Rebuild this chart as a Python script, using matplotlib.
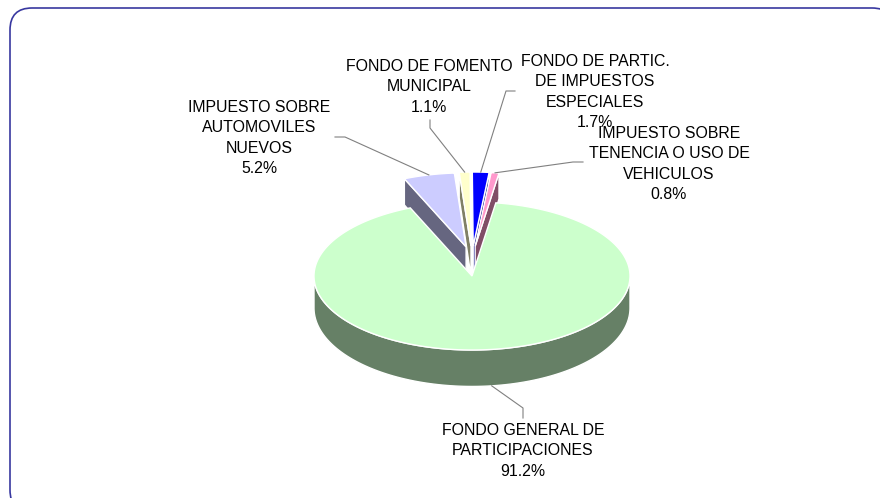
import numpy as np
import matplotlib
matplotlib.use("Agg")
import matplotlib.pyplot as plt
from matplotlib.patches import Polygon, FancyBboxPatch

# ---------------- data ----------------
categories = [
    "IMPUESTO SOBRE\nAUTOMOVILES\nNUEVOS",
    "FONDO DE FOMENTO\nMUNICIPAL",
    "FONDO DE PARTIC.\nDE IMPUESTOS\nESPECIALES",
    "IMPUESTO SOBRE\nTENENCIA O USO DE\nVEHICULOS",
    "FONDO GENERAL DE\nPARTICIPACIONES",
]
values = [5.2, 1.1, 1.7, 0.8, 91.2]
colors = ["#CCCCFF", "#FFFFCC", "#0000FF", "#FF99CC", "#CCFFCC"]
exploded = [True, True, True, True, False]

# label layout: text centre x, first line centre y, leader elbow points
label_x = [259, 429, 595, 669, 523]
label_y = [106, 65, 60, 132, 429]
leader_elbows = [
    [(335, 137), (345, 137)],
    [(430, 120), (430, 128)],
    [(515, 91), (506, 91)],
    [(583, 162), (573, 162)],
    [(523, 418), (523, 408)],
]

# ---------------- geometry ----------------
W, H = 880, 498
fig = plt.figure(figsize=(W / 100, H / 100), dpi=100)
ax = fig.add_axes([0, 0, 1, 1])
ax.set_xlim(0, W)
ax.set_ylim(H, 0)
ax.axis("off")

# frame
frame = FancyBboxPatch((10, 8), 884, 504, boxstyle="round,pad=0,rounding_size=22",
                       facecolor="white", edgecolor="#3838a0", linewidth=1.2, zorder=0)
ax.add_patch(frame)

cx, cy = 472.0, 276.0
R, r = 158.0, 74.0
start = -23.0
lift = 30.0


def depth(y):
    return 26 + 0.06 * (y - 176)


def shade(c):
    return np.array(matplotlib.colors.to_rgb(c)) * 0.5


total = sum(values)
angles = np.cumsum([0] + [v / total * 360 for v in values]) + start

slices = []
for i, v in enumerate(values):
    a0, a1 = angles[i], angles[i + 1]
    am = 0.5 * (a0 + a1)
    if exploded[i]:
        dx = 25 * np.sin(np.radians(am))
        dy = -lift * np.cos(np.radians(am))
    else:
        dx, dy = 0.0, 0.0
    slices.append((i, a0, a1, am, dx, dy))


def P(theta, dx, dy, rad=1.0):
    t = np.radians(theta)
    return cx + dx + R * rad * np.sin(t), cy + dy - r * rad * np.cos(t)


def draw_slice(i, a0, a1, am, dx, dy, z):
    col = colors[i]
    side = shade(col)
    ec = "white"
    apex = (cx + dx, cy + dy)
    # radial faces
    for phi, is_start in ((a0, True), (a1, False)):
        s = np.sin(np.radians(phi))
        visible = s < 0 if is_start else s > 0
        if visible:
            ox, oy = P(phi, dx, dy)
            poly = [apex, (ox, oy), (ox, oy + depth(oy)), (apex[0], apex[1] + depth(apex[1]))]
            ax.add_patch(Polygon(poly, closed=True, facecolor=side, edgecolor=ec,
                                 linewidth=1.0, zorder=z))
    # outer wall (front half only)
    th = np.linspace(a0, a1, 400)
    front = np.cos(np.radians(th)) < 0
    if front.any():
        tf = th[front]
        top = [P(t, dx, dy) for t in tf]
        bot = [(x, y + depth(y)) for x, y in top][::-1]
        ax.add_patch(Polygon(top + bot, closed=True, facecolor=side, edgecolor=ec,
                             linewidth=1.0, zorder=z + 0.1))
    # top face
    arc = [P(t, dx, dy) for t in th]
    ax.add_patch(Polygon([apex] + arc, closed=True, facecolor=col, edgecolor=ec,
                         linewidth=1.0, zorder=z + 0.2))


# painter's order: back first
order = sorted(slices, key=lambda s: (not exploded[s[0]],
                                      -np.cos(np.radians(s[3])) if exploded[s[0]] else 0))
for k, s in enumerate(order):
    draw_slice(*s, z=2 + k)

# ---------------- labels ----------------
line_gap = 20.5
for i, (i_, a0, a1, am, dx, dy) in enumerate(slices):
    px, py = P(am, dx, dy)
    if not exploded[i]:
        py = py + depth(py)
    pts = leader_elbows[i] + [(px, py)]
    xs, ys = zip(*pts)
    ax.plot(xs, ys, color="#808080", linewidth=0.8, zorder=20)
    lines = categories[i].split("\n") + [f"{values[i]:.1f}%"]
    for j, ln in enumerate(lines):
        ax.text(label_x[i], label_y[i] + j * line_gap + 5.5, ln, ha="center", va="baseline",
                fontsize=11.4, family="Liberation Sans", color="#000000", zorder=21)

fig.savefig("out.png", dpi=100)
